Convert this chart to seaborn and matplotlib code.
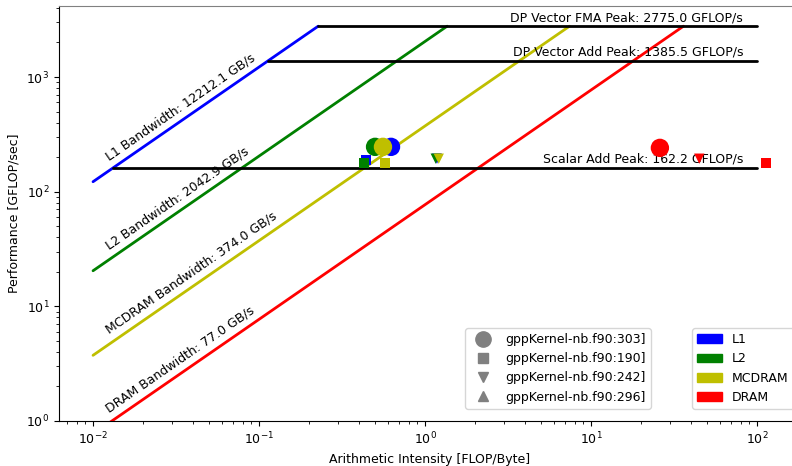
import numpy as np
import pandas as pd
import matplotlib
matplotlib.use("Agg")
import matplotlib.pyplot as plt
import seaborn as sns
from matplotlib.lines import Line2D
from matplotlib.patches import Patch

# ---- data ----
levels = ["L1", "L2", "MCDRAM", "DRAM"]
bandwidths = [12212.1, 2042.9, 374.0, 77.0]
level_colors = ["b", "g", "y", "r"]

peak_names = ["DP Vector FMA Peak", "DP Vector Add Peak", "Scalar Add Peak"]
peak_values = [2775.0, 1385.5, 162.2]

kernels = ["gppKernel-nb.f90:303]", "gppKernel-nb.f90:190]",
           "gppKernel-nb.f90:242]", "gppKernel-nb.f90:296]"]
kernel_markers = ["o", "s", "v", "^"]

ai_303 = [0.624, 0.50, 0.558, 26.0]
perf_303 = [246, 246, 246, 241]
ai_190 = [0.44, 0.43, 0.572, 113.0]
perf_190 = [190, 178, 178, 178]
ai_242 = [1.18, 1.16, 1.21, 44.9]
perf_242 = [194, 194, 194, 194]
ai_296 = [0.624, 0.50, 0.558, 26.0]
perf_296 = [246, 246, 246, 241]

x_start = 0.01
x_end = 100.0

# ---- figure ----
sns.set_style("white")
plt.rcParams["font.family"] = ["DejaVu Sans"]
plt.rcParams["font.size"] = 9
for key in ["text.color", "axes.labelcolor", "xtick.color", "ytick.color"]:
    plt.rcParams[key] = "black"

fig = plt.figure(figsize=(7.92, 4.66), dpi=100)
ax = fig.add_axes([59 / 792, 45 / 466, 742 / 792, 415 / 466])
ax.set_xscale("log")
ax.set_yscale("log")
ax.set_xlim(10 ** -2.205, 10 ** 2.265)
ax.set_ylim(1, 2775.0 * 1.5)

top_peak = max(peak_values)
max_bw = max(bandwidths)

# bandwidth rooflines
for name, bw, col in zip(levels, bandwidths, level_colors):
    x_knee = top_peak / bw
    seg = pd.DataFrame({"x": [x_start, x_knee], "y": [bw * x_start, top_peak]})
    sns.lineplot(data=seg, x="x", y="y", color=col, lw=2, ax=ax,
                 sort=False, estimator=None, legend=False)

# compute on-screen angle of bandwidth lines
fig.canvas.draw()
p1 = ax.transData.transform((0.01, 1.0))
p2 = ax.transData.transform((1.0, 100.0))
angle = np.degrees(np.arctan2(p2[1] - p1[1], p2[0] - p1[0]))

for name, bw in zip(levels, bandwidths):
    xl = 0.013
    ax.annotate(f"{name} Bandwidth: {bw:.1f} GB/s", xy=(xl, bw * xl),
                xytext=(-1, 4), textcoords="offset points",
                rotation=angle, rotation_mode="anchor",
                ha="left", va="bottom", fontsize=9, annotation_clip=False)

# compute peaks
for name, pk in zip(peak_names, peak_values):
    x0 = pk / max_bw
    seg = pd.DataFrame({"x": [x0, x_end], "y": [pk, pk]})
    sns.lineplot(data=seg, x="x", y="y", color="k", lw=2, ax=ax,
                 sort=False, estimator=None, legend=False)
    ax.annotate(f"{name}: {pk:.1f} GFLOP/s", xy=(x_end, pk),
                xytext=(-10, 1.5), textcoords="offset points",
                ha="right", va="bottom", fontsize=9)

# measured points
rows = []
order = [3, 0, 1, 2]
ais = [ai_303, ai_190, ai_242, ai_296]
perfs = [perf_303, perf_190, perf_242, perf_296]
for k in order:
    for li, lvl in enumerate(levels):
        rows.append({"kernel": kernels[k], "level": lvl,
                     "ai": ais[k][li], "perf": perfs[k][li]})
pts = pd.DataFrame(rows)
size_map = {kernels[0]: 175, kernels[1]: 55, kernels[2]: 55, kernels[3]: 55}
sns.scatterplot(data=pts, x="ai", y="perf", hue="level", style="kernel",
                size="kernel", sizes=size_map,
                markers=dict(zip(kernels, kernel_markers)),
                palette=dict(zip(levels, level_colors)),
                linewidth=0, legend=False, ax=ax, zorder=3)

ax.set_xlabel("Arithmetic Intensity [FLOP/Byte]", fontsize=9)
ax.set_ylabel("Performance [GFLOP/sec]", fontsize=9)
ax.tick_params(which="both", direction="out", bottom=True, left=True,
               labelsize=9)
ax.tick_params(which="major", length=3.5, width=0.8)
ax.tick_params(which="minor", length=2, width=0.6)
for s in ax.spines.values():
    s.set_color("black")
    s.set_linewidth(0.8)
ax.spines["top"].set_color("#808080")

# legends
mh = [Line2D([], [], marker=m, color="gray", linestyle="none",
             markersize=(11 if m == "o" else 6.5)) for m in kernel_markers]
leg1 = fig.legend(mh, kernels, loc="lower right",
                  bbox_to_anchor=(657 / 792, 1 - 415 / 466), fontsize=9)
ph = [Patch(color=c) for c in level_colors]
leg2 = fig.legend(ph, levels, loc="lower right",
                  bbox_to_anchor=(800 / 792, 1 - 415 / 466), fontsize=9)

fig.savefig("out.png", dpi=100)
